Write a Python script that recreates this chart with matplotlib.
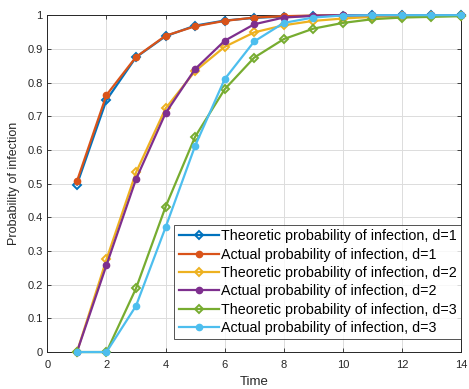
import matplotlib
matplotlib.use("Agg")
import matplotlib.pyplot as plt

plt.rcParams['font.family'] = ['Liberation Sans', 'DejaVu Sans']

time = list(range(1, 15))
theo_d1 = [0.497, 0.748, 0.875, 0.9375, 0.969, 0.984, 0.992, 0.996, 0.998, 0.999, 1.0, 1.0, 1.0, 1.0]
act_d1 = [0.507, 0.763, 0.876, 0.939, 0.967, 0.983, 0.993, 0.997, 0.999, 1.0, 1.0, 1.0, 1.0, 1.0]
theo_d2 = [0.0, 0.275, 0.533, 0.723, 0.834, 0.906, 0.949, 0.97, 0.983, 0.99, 0.995, 0.997, 0.998, 0.999]
act_d2 = [0.0, 0.258, 0.513, 0.709, 0.84, 0.924, 0.973, 0.993, 0.998, 1.0, 1.0, 1.0, 1.0, 1.0]
theo_d3 = [0.0, 0.0, 0.189, 0.431, 0.639, 0.78, 0.874, 0.929, 0.96, 0.977, 0.988, 0.993, 0.995, 0.997]
act_d3 = [0.0, 0.0, 0.137, 0.37, 0.612, 0.81, 0.922, 0.977, 0.993, 0.999, 1.0, 1.0, 1.0, 1.0]

labels = [
    "Theoretic probability of infection, d=1",
    "Actual probability of infection, d=1",
    "Theoretic probability of infection, d=2",
    "Actual probability of infection, d=2",
    "Theoretic probability of infection, d=3",
    "Actual probability of infection, d=3",
]
series = [theo_d1, act_d1, theo_d2, act_d2, theo_d3, act_d3]
colors = ['#0072BD', '#D95319', '#EDB120', '#7E2F8E', '#77AC30', '#4DBEEE']

fig = plt.figure(figsize=(4.69, 3.89), dpi=100)
ax = fig.add_axes([0.101, 0.095, 0.882, 0.866])

for i, (vals, lab, c) in enumerate(zip(series, labels, colors)):
    if i % 2 == 0:
        ax.plot(time, vals, color=c, lw=1.6, marker='D', markersize=4.5,
                markerfacecolor='none', markeredgewidth=1.4, label=lab,
                clip_on=False, zorder=3 + i)
    else:
        ax.plot(time, vals, color=c, lw=1.6, marker='o', markersize=4.5,
                markerfacecolor=c, markeredgecolor=c, label=lab,
                clip_on=False, zorder=3 + i)

ax.set_xlim(0, 14)
ax.set_ylim(0, 1)
ax.set_xticks(range(0, 15, 2))
ax.set_yticks([i / 10 for i in range(11)])
ax.set_yticklabels(['0', '0.1', '0.2', '0.3', '0.4', '0.5', '0.6', '0.7', '0.8', '0.9', '1'])
ax.grid(True, color='#dcdcdc', lw=0.7)
ax.set_axisbelow(True)
ax.tick_params(direction='in', length=3, labelsize=8, colors='#262626',
               top=True, right=True, width=0.6)
ax.tick_params(axis='x', pad=6)
for s in ax.spines.values():
    s.set_color('#262626')
    s.set_linewidth(0.7)
ax.set_xlabel('Time', fontsize=9.5, color='#262626', labelpad=4)
ax.set_ylabel('Probability of infection', fontsize=9, color='#262626', labelpad=5)

leg = ax.legend(loc='lower right', bbox_to_anchor=(1.0, 0.038), fontsize=10.3,
                frameon=True, fancybox=False, edgecolor='#262626',
                handlelength=2.8, handletextpad=0.15, labelspacing=0.3,
                borderpad=0.3, borderaxespad=0.0)
leg.get_frame().set_linewidth(0.7)
leg.set_zorder(20)

fig.savefig('out.png', dpi=100)
